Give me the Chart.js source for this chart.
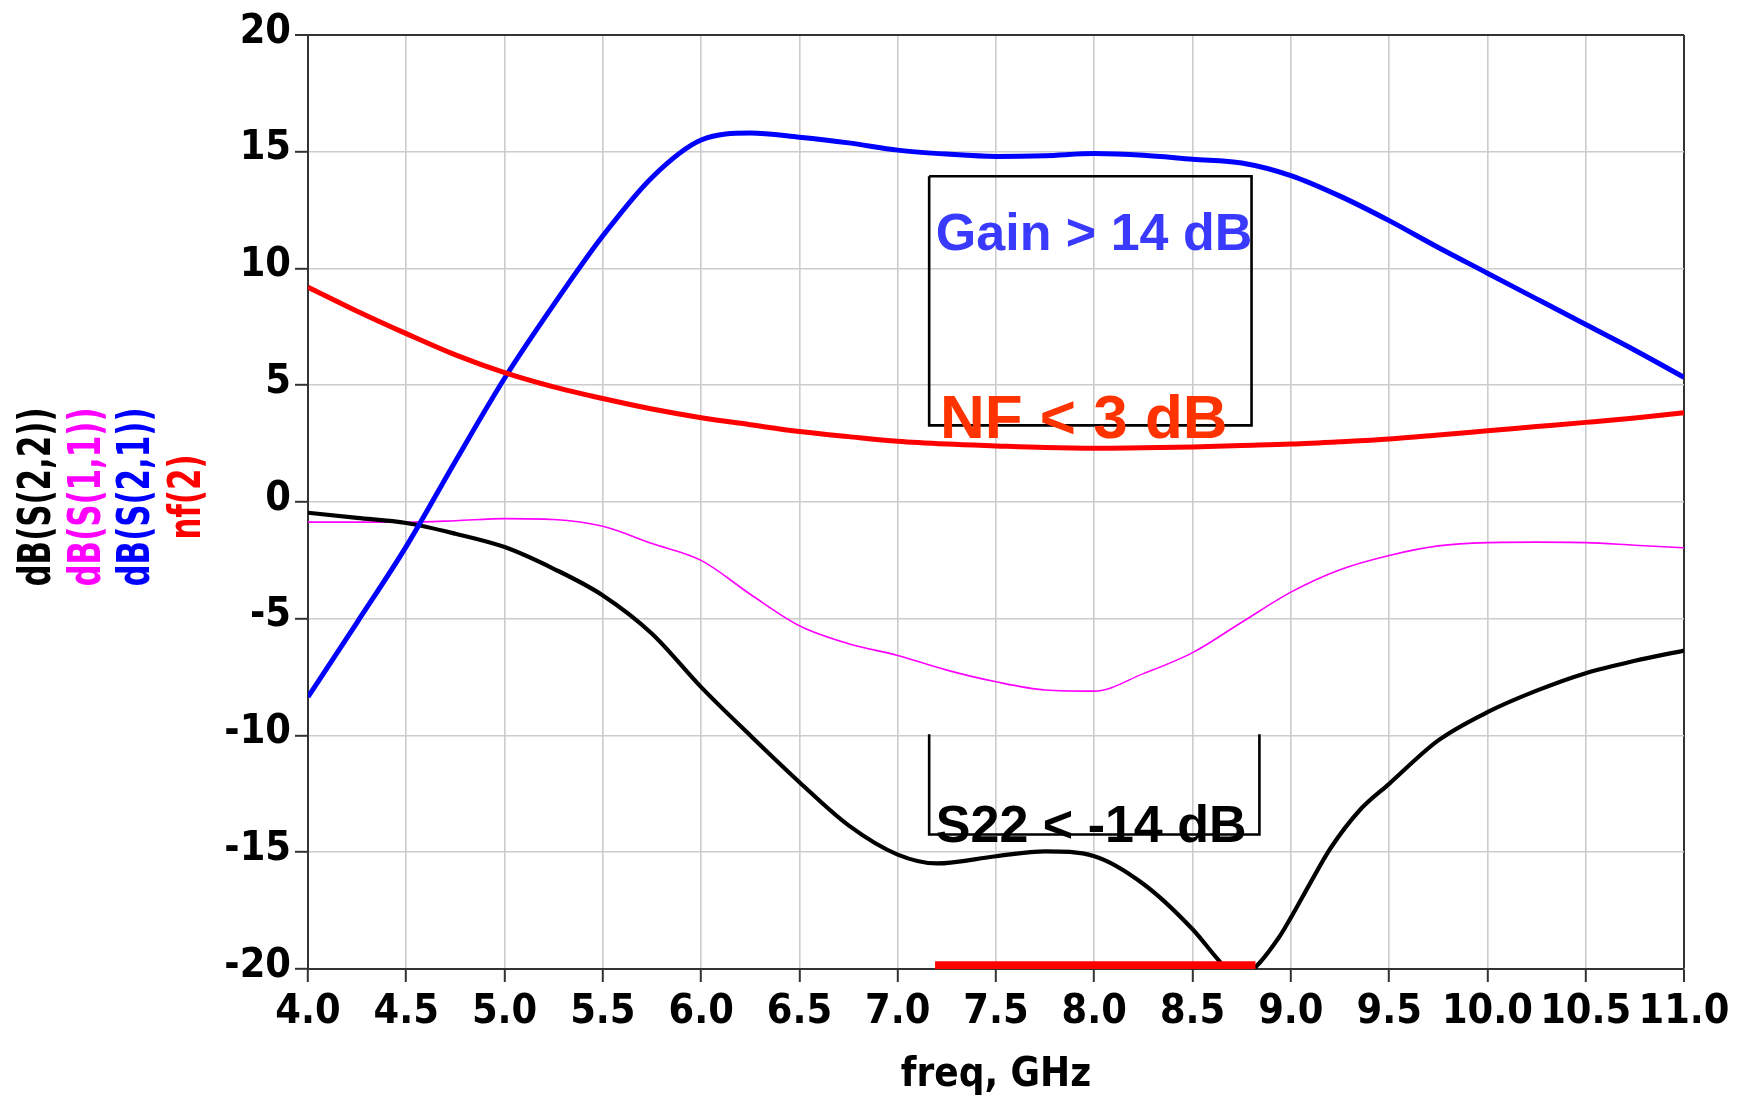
<!DOCTYPE html>
<html><head><meta charset="utf-8">
<script src="https://cdn.jsdelivr.net/npm/chart.js@4.4.1/dist/chart.umd.min.js"></script>
<style>html,body{margin:0;padding:0;background:#fff;}canvas{display:block;}</style>
</head><body>
<canvas id="c" width="1743" height="1097"></canvas>
<script>
// ---- data ----
const freq = [4.0,4.25,4.5,4.75,5.0,5.25,5.5,5.75,6.0,6.25,6.5,6.75,7.0,7.25,7.5,7.75,8.0,8.25,8.5,8.75,9.0,9.25,9.5,9.75,10.0,10.25,10.5,10.75,11.0];
const s21 = [-8.35,-5.15,-1.9,1.75,5.3,8.45,11.4,13.9,15.5,15.8,15.62,15.38,15.07,14.9,14.8,14.83,14.92,14.85,14.68,14.52,13.98,13.1,12.05,10.9,9.8,8.7,7.6,6.5,5.34];
const s11 = [-0.86,-0.86,-0.86,-0.8,-0.71,-0.75,-1.04,-1.78,-2.5,-3.95,-5.3,-6.07,-6.57,-7.2,-7.7,-8.05,-8.1,-7.35,-6.45,-5.15,-3.86,-2.9,-2.29,-1.88,-1.74,-1.72,-1.74,-1.85,-1.96];
const nf  = [9.2,8.17,7.21,6.3,5.54,4.93,4.43,3.98,3.61,3.31,3.02,2.8,2.6,2.48,2.4,2.33,2.3,2.32,2.36,2.42,2.48,2.58,2.7,2.87,3.05,3.23,3.41,3.6,3.82];
const s22Freq = [4.0,4.25,4.5,4.75,5.0,5.25,5.5,5.75,6.0,6.25,6.5,6.75,7.0,7.2,7.5,7.75,8.0,8.25,8.5,8.63,8.72,8.81,8.94,9.0,9.1,9.2,9.35,9.5,9.75,10.0,10.25,10.5,10.75,11.0];
const s22 = [-0.46,-0.68,-0.9,-1.36,-1.93,-2.86,-4.0,-5.64,-7.93,-10.0,-12.0,-13.85,-15.1,-15.48,-15.17,-14.96,-15.17,-16.36,-18.3,-19.6,-20.4,-20.0,-18.64,-17.8,-16.3,-14.85,-13.2,-12.07,-10.21,-9.0,-8.08,-7.33,-6.8,-6.36];
const xTickValues = [4.0,4.5,5.0,5.5,6.0,6.5,7.0,7.5,8.0,8.5,9.0,9.5,10.0,10.5,11.0];
const yTickValues = [-20,-15,-10,-5,0,5,10,15,20];
const seriesNames = ['dB(S(2,2))','dB(S(1,1))','dB(S(2,1))','nf(2)'];
const gainBoxX = [7.16,8.80,8.80,7.16,7.16];
const gainBoxY = [13.95,13.95,3.28,3.28,13.95];
const s22BracketX = [7.16,7.16,8.84,8.84];
const s22BracketY = [-9.95,-14.24,-14.24,-9.95];
const bandX = [7.19,8.82];
const bandY = [-19.88,-19.88];
const noteTexts = ['Gain > 14 dB','NF < 3 dB','S22 < -14 dB'];

// ---- styling ----
const narrow = "'Liberation Sans Narrow','Arial Narrow','DejaVu Sans Condensed',sans-serif";
const sans = "'Liberation Sans',Arial,sans-serif";
const seriesColors = ['#000000','#ff00ff','#0000ff','#ff0000'];
const pts = (xs, ys) => xs.map((x,i)=>({x:x, y:ys[i]}));

const annotations = {
  id: 'annotations',
  afterDatasetsDraw(chart) {
    const ctx = chart.ctx, xs = chart.scales.x, ys = chart.scales.y;
    const notes = [
      {t: noteTexts[0], x: 7.194, y: 10.78, size: 52, color: '#3a3aff'},
      {t: noteTexts[1], x: 7.215, y: 2.72, size: 62, color: '#ff3300'},
      {t: noteTexts[2], x: 7.194, y: -14.57, size: 52, color: '#000000'}
    ];
    ctx.save();
    ctx.textAlign = 'left'; ctx.textBaseline = 'alphabetic';
    notes.forEach(n => {
      ctx.font = `bold ${n.size}px ${sans}`;
      ctx.fillStyle = n.color;
      ctx.fillText(n.t, xs.getPixelForValue(n.x), ys.getPixelForValue(n.y));
    });
    ctx.restore();
  },
  afterDraw(chart) {
    const ctx = chart.ctx, ca = chart.chartArea;
    const cy = (ca.top + ca.bottom) / 2 - 5;
    const bx = [50, 99.5, 149, 200];
    ctx.save();
    ctx.font = `bold 44px ${narrow}`;
    ctx.textAlign = 'center'; ctx.textBaseline = 'alphabetic';
    seriesNames.forEach((t,i) => {
      ctx.save();
      ctx.translate(bx[i], cy);
      ctx.rotate(-Math.PI/2);
      ctx.scale(0.78, 1);
      ctx.fillStyle = seriesColors[i];
      ctx.fillText(t, 0, 0);
      ctx.restore();
    });
    ctx.restore();
  }
};

const curve = (label, data, color, width) => ({
  label, data, borderColor: color, borderWidth: width, pointRadius: 0,
  cubicInterpolationMode: 'monotone', fill: false
});
const shape = (label, data, color, width) => ({
  label, data, borderColor: color, borderWidth: width, pointRadius: 0,
  tension: 0, fill: false, borderCapStyle: 'butt', borderJoinStyle: 'miter'
});

new Chart(document.getElementById('c'), {
  type: 'scatter',
  data: {
    datasets: [
      shape('band', pts(bandX, bandY), '#ff0000', 10),
      curve(seriesNames[3], pts(freq, nf), seriesColors[3], 5),
      curve(seriesNames[2], pts(freq, s21), seriesColors[2], 5),
      curve(seriesNames[0], pts(s22Freq, s22), seriesColors[0], 4.2),
      curve(seriesNames[1], pts(freq, s11), seriesColors[1], 1.6),
      shape('gain spec', pts(gainBoxX, gainBoxY), '#000000', 2.6),
      shape('s22 spec', pts(s22BracketX, s22BracketY), '#000000', 2.6)
    ].map(d => Object.assign(d, {showLine: true}))
  },
  options: {
    responsive: false,
    devicePixelRatio: 1,
    animation: false,
    events: [],
    layout: {padding: {top: 35, right: 59, left: 0, bottom: 0}},
    plugins: {legend: {display: false}, tooltip: {enabled: false}},
    scales: {
      x: {
        type: 'linear', min: 4, max: 11,
        afterBuildTicks: s => { s.ticks = xTickValues.map(v => ({value: v})); },
        afterFit: s => { s.height = 128; },
        border: {color: '#333333', width: 2},
        grid: {
          color: c => (c.tick && c.tick.value === 11) ? '#333333' : '#cccccc',
          lineWidth: c => (c.tick && c.tick.value === 11) ? 2 : 1.6,
          tickColor: '#333333', tickWidth: 2, tickLength: 13
        },
        ticks: {
          padding: 6, color: '#000000', maxRotation: 0, autoSkip: false,
          font: {family: narrow, size: 41, weight: 'bold'},
          callback: v => Number(v).toFixed(1)
        },
        title: {
          display: true, text: 'freq, GHz', color: '#000000',
          font: {family: narrow, size: 40, weight: 'bold'},
          padding: {top: 0, bottom: -3}
        }
      },
      y: {
        type: 'linear', min: -20, max: 20,
        afterBuildTicks: s => { s.ticks = yTickValues.map(v => ({value: v})); },
        afterFit: s => { s.width = 308; },
        border: {color: '#333333', width: 2},
        grid: {
          color: c => (c.tick && c.tick.value === 20) ? '#333333' : '#cccccc',
          lineWidth: c => (c.tick && c.tick.value === 20) ? 2 : 1.6,
          tickColor: '#333333', tickWidth: 2, tickLength: 13
        },
        ticks: {
          padding: 4, color: '#000000', labelOffset: -3,
          font: {family: narrow, size: 41, weight: 'bold'},
          callback: v => String(v)
        }
      }
    }
  },
  plugins: [annotations]
});
</script>
</body></html>
